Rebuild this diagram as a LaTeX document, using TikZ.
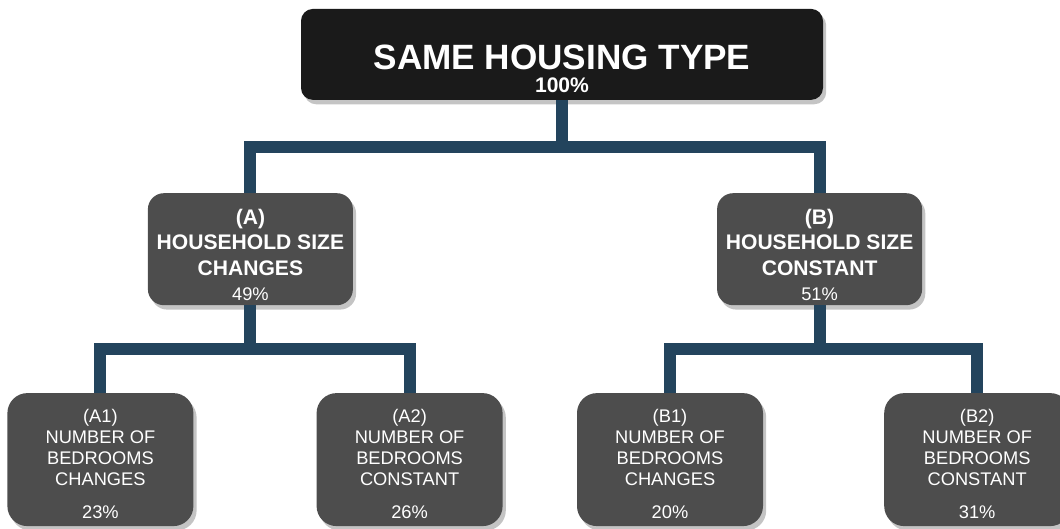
\documentclass[tikz,border=0pt]{standalone}
\usepackage{fontspec}
\setmainfont{Liberation Sans}
\usetikzlibrary{calc, positioning, shadows}

\definecolor{rootgray}{HTML}{1A1A1A}
\definecolor{boxgray}{HTML}{4D4D4D}
\definecolor{linkblue}{HTML}{23445D}
\definecolor{shadowgray}{HTML}{C4C4C4}

% extra room above the first line of a box
\newcommand{\headroom}[1]{\rule{0pt}{#1}}

\begin{document}
\begin{tikzpicture}[
    box/.style={fill=boxgray, text=white, align=center, inner sep=0pt,
        drop shadow={shadow xshift=0.08cm, shadow yshift=-0.11cm, fill=shadowgray, opacity=1}},
    rootbox/.style={box, fill=rootgray, minimum width=13.05cm, minimum height=2.275cm,
        rounded corners=0.3cm, font=\fontsize{25}{16}\selectfont\bfseries},
    sizebox/.style={box, minimum width=5.125cm, minimum height=2.8cm,
        rounded corners=0.4cm, font=\fontsize{15}{18}\selectfont\bfseries},
    roombox/.style={box, minimum width=4.65cm, minimum height=3.325cm,
        rounded corners=0.5cm, font=\fontsize{13}{15}\selectfont},
    link/.style={draw=linkblue, line width=0.3cm}
]
    \useasboundingbox (0,0) rectangle (26.5,-13.225);
    \clip (0,0) rectangle (26.5,-13.225);

    % boxes
    \node[rootbox] (top) at (14.05,-1.36) {\headroom{38pt}SAME HOUSING TYPE\\{\fontsize{15}{16}\selectfont 100\%}};

    \node[sizebox] (sizeA) at (6.26,-6.23) {\headroom{19pt}(A)\\HOUSEHOLD SIZE\\CHANGES\\{\mdseries\fontsize{13}{15}\selectfont 49\%}};
    \node[sizebox] (sizeB) at (20.49,-6.23) {\headroom{19pt}(B)\\HOUSEHOLD SIZE\\CONSTANT\\{\mdseries\fontsize{13}{15}\selectfont 51\%}};

    \node[roombox] (roomA1) at (2.51,-11.49) {\headroom{15.5pt}(A1)\\NUMBER OF\\BEDROOMS\\CHANGES\\[8pt]23\%};
    \node[roombox] (roomA2) at (10.24,-11.49) {\headroom{15.5pt}(A2)\\NUMBER OF\\BEDROOMS\\CONSTANT\\[8pt]26\%};
    \node[roombox] (roomB1) at (16.75,-11.49) {\headroom{15.5pt}(B1)\\NUMBER OF\\BEDROOMS\\CHANGES\\[8pt]20\%};
    \node[roombox] (roomB2) at (24.43,-11.49) {\headroom{15.5pt}(B2)\\NUMBER OF\\BEDROOMS\\CONSTANT\\[8pt]31\%};

    % elbow connectors
    \coordinate (split) at ($(top.south)!.5!(sizeA.north)$);
    \draw[link] (top.south) -- (top.south |- split);
    \draw[link] (sizeA.north) |- (split -| sizeB.north) -- (sizeB.north);

    \coordinate (splitA) at ($(sizeA.south)!.5!(roomA1.north)$);
    \draw[link] (sizeA.south) -- (sizeA.south |- splitA);
    \draw[link] (roomA1.north) |- (splitA -| roomA2.north) -- (roomA2.north);

    \coordinate (splitB) at ($(sizeB.south)!.5!(roomB1.north)$);
    \draw[link] (sizeB.south) -- (sizeB.south |- splitB);
    \draw[link] (roomB1.north) |- (splitB -| roomB2.north) -- (roomB2.north);
\end{tikzpicture}
\end{document}
